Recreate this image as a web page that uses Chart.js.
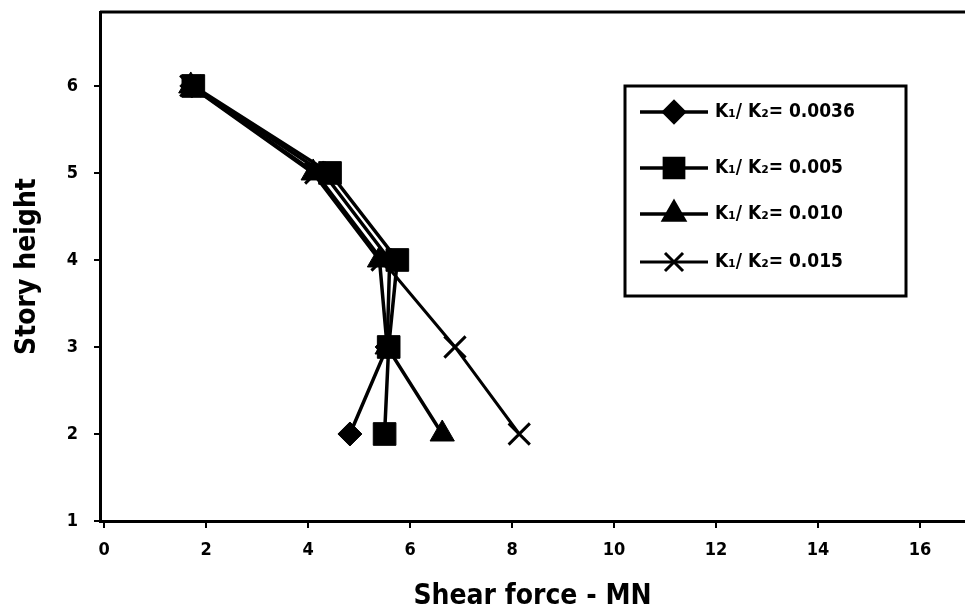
<!DOCTYPE html>
<html>
<head>
<meta charset="utf-8">
<script src="https://cdn.jsdelivr.net/npm/chart.js@4"></script>
<style>
  html, body { margin: 0; padding: 0; background: #fff; }
  canvas { display: block; }
</style>
</head>
<body>
<canvas id="myChart" width="965" height="614"></canvas>
<script>
// story levels and shear force (MN) per stiffness ratio
const storyLevels = [6, 5, 4, 3, 2];
const shearK0036 = [1.72, 4.30, 5.60, 5.55, 4.82];
const shearK005 = [1.75, 4.43, 5.75, 5.58, 5.50];
const shearK010 = [1.70, 4.10, 5.40, 5.55, 6.63];
const shearK015 = [1.70, 4.15, 5.45, 6.88, 8.14];
const seriesLabels = ["K\u2081/ K\u2082= 0.0036", "K\u2081/ K\u2082= 0.005", "K\u2081/ K\u2082= 0.010", "K\u2081/ K\u2082= 0.015"];
const xTicks = [0, 2, 4, 6, 8, 10, 12, 14, 16];
const yTicks = [1, 2, 3, 4, 5, 6];

const FONT = "'DejaVu Sans Condensed', 'Liberation Sans Narrow', 'DejaVu Sans', sans-serif";

function toPoints(xs) {
  return xs.map((x, i) => ({ x: x, y: storyLevels[i] }));
}

// keep tick labels from pushing the plot area in
function noPadding(s) {
  s.paddingLeft = 0;
  s.paddingRight = 0;
  s.paddingTop = 0;
  s.paddingBottom = 0;
}

const ctx = document.getElementById("myChart");

// draws the boxed legend inside the plot plus the top frame line
const frameAndLegend = {
  id: "frameAndLegend",
  afterDraw(chart) {
    const c = chart.ctx;
    const area = chart.chartArea;
    c.save();
    c.strokeStyle = "#000";
    c.lineWidth = 3;
    c.beginPath();
    c.moveTo(area.left, area.top);
    c.lineTo(area.right, area.top);
    c.stroke();

    // legend box
    const bx = 625, by = 86, bw = 281, bh = 210;
    c.lineWidth = 3;
    c.strokeRect(bx, by, bw, bh);
    const rows = [112, 168, 214, 262];
    rows.forEach((y, k) => {
      const ds = chart.data.datasets.find(d => d.legendIndex === k);
      c.strokeStyle = "#000";
      c.lineWidth = ds.borderWidth;
      c.beginPath();
      c.moveTo(640, y);
      c.lineTo(708, y);
      c.stroke();
      Chart.helpers.drawPoint(c, {
        pointStyle: ds.pointStyle,
        radius: ds.pointRadius * 0.85,
        rotation: 0,
        borderWidth: ds.pointBorderWidth || 1
      }, 674, y);
      c.fillStyle = "#000";
      c.font = "bold 19px " + FONT;
      c.textBaseline = "middle";
      c.textAlign = "left";
      c.fillText(seriesLabels[k], 715, y);
    });
    c.restore();
  }
};

const config = {
  type: "line",
  data: {
    datasets: [
      {
        label: seriesLabels[1],
        legendIndex: 1,
        order: 0,
        data: toPoints(shearK005),
        borderColor: "#000",
        backgroundColor: "#000",
        borderWidth: 3.5,
        pointStyle: "rect",
        pointRadius: 16,
        pointBorderWidth: 1,
      },
      {
        label: seriesLabels[2],
        legendIndex: 2,
        order: 1,
        data: toPoints(shearK010),
        borderColor: "#000",
        backgroundColor: "#000",
        borderWidth: 3.5,
        pointStyle: "triangle",
        pointRadius: 14,
        pointBorderWidth: 1,
      },
      {
        label: seriesLabels[0],
        legendIndex: 0,
        order: 2,
        data: toPoints(shearK0036),
        borderColor: "#000",
        backgroundColor: "#000",
        borderWidth: 3.5,
        pointStyle: "rectRot",
        pointRadius: 12,
        pointBorderWidth: 1,
      },
      {
        label: seriesLabels[3],
        legendIndex: 3,
        order: 3,
        data: toPoints(shearK015),
        borderColor: "#000",
        backgroundColor: "#000",
        borderWidth: 3,
        pointStyle: "crossRot",
        pointRadius: 15,
        pointBorderWidth: 3,
      },
    ],
  },
  options: {
    responsive: false,
    animation: false,
    layout: { autoPadding: false, padding: { top: 12, right: 0, left: 0, bottom: 0 } },
    plugins: {
      legend: { display: false },
      tooltip: { enabled: false },
    },
    scales: {
      x: {
        type: "linear",
        min: -0.08,
        max: 16.88,
        afterFit: s => {
          s.height = 93;
          noPadding(s);
        },
        afterBuildTicks: s => { s.ticks = xTicks.map(v => ({ value: v })); },
        ticks: {
          color: "#000",
          padding: 12,
          font: { family: FONT, size: 18, weight: "bold" },
        },
        grid: { drawOnChartArea: false, tickLength: 7, color: "#000", lineWidth: 2 },
        border: { color: "#000", width: 3 },
        title: {
          display: true,
          text: "Shear force - MN",
          color: "#000",
          font: { family: FONT, size: 28, weight: "bold" },
          padding: { top: 0, bottom: 0 },
        },
      },
      y: {
        type: "linear",
        min: 1,
        max: 6.85,
        afterFit: s => {
          s.width = 100;
          noPadding(s);
        },
        afterBuildTicks: s => { s.ticks = yTicks.map(v => ({ value: v })); },
        ticks: {
          color: "#000",
          padding: 16,
          font: { family: FONT, size: 18, weight: "bold" },
        },
        grid: { drawOnChartArea: false, tickLength: 6, color: "#000", lineWidth: 2 },
        border: { color: "#000", width: 3 },
        title: {
          display: true,
          text: "Story height",
          color: "#000",
          font: { family: FONT, size: 28, weight: "bold" },
          padding: { top: 11, bottom: 0 },
        },
      },
    },
  },
  plugins: [frameAndLegend],
};

const myChart = new Chart(ctx, config);
</script>
</body>
</html>
